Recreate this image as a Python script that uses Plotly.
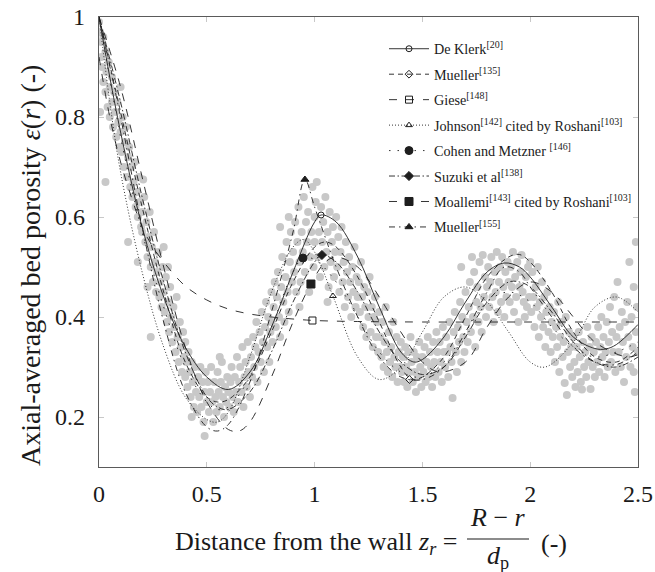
import plotly.graph_objects as go

# ---------------- data ----------------
deklerk_x = [0, 0.05, 0.1, 0.2, 0.3, 0.4, 0.5, 0.6, 0.7, 0.8, 0.9, 1.0, 1.03, 1.1, 1.2, 1.3, 1.4, 1.46, 1.5, 1.6, 1.7, 1.8, 1.88, 1.95, 2.0, 2.1, 2.2, 2.3, 2.35, 2.4, 2.5]
deklerk_y = [1.0, 0.88, 0.77, 0.58, 0.44, 0.34, 0.28, 0.255, 0.29, 0.38, 0.49, 0.59, 0.604, 0.59, 0.52, 0.42, 0.33, 0.31, 0.315, 0.36, 0.43, 0.49, 0.508, 0.50, 0.48, 0.42, 0.36, 0.337, 0.336, 0.345, 0.385]
deklerk_mark = (1.03, 0.604)

mueller135_x = [0, 0.1, 0.2, 0.3, 0.4, 0.5, 0.55, 0.6, 0.7, 0.8, 0.9, 1.0, 1.05, 1.1, 1.2, 1.3, 1.4, 1.45, 1.5, 1.6, 1.7, 1.8, 1.9, 1.95, 2.0, 2.1, 2.2, 2.3, 2.4, 2.5]
mueller135_y = [1.0, 0.81, 0.62, 0.45, 0.31, 0.24, 0.23, 0.235, 0.28, 0.37, 0.47, 0.54, 0.55, 0.54, 0.48, 0.39, 0.30, 0.275, 0.28, 0.32, 0.40, 0.48, 0.52, 0.525, 0.51, 0.45, 0.37, 0.32, 0.31, 0.34]
mueller135_mark = (1.44, 0.275)

giese_x = [0, 0.05, 0.1, 0.15, 0.2, 0.25, 0.3, 0.4, 0.5, 0.6, 0.7, 0.8, 0.9, 1.0, 1.2, 1.5, 2.0, 2.5]
giese_y = [0.92, 0.80, 0.71, 0.64, 0.58, 0.54, 0.51, 0.462, 0.434, 0.416, 0.406, 0.40, 0.396, 0.393, 0.391, 0.39, 0.39, 0.39]
giese_mark = (0.99, 0.393)

johnson_x = [0, 0.05, 0.1, 0.2, 0.3, 0.4, 0.5, 0.55, 0.6, 0.7, 0.8, 0.9, 0.95, 1.0, 1.085, 1.2, 1.3, 1.4, 1.5, 1.6, 1.7, 1.8, 1.9, 2.0, 2.07, 2.2, 2.3, 2.4, 2.5]
johnson_y = [1.0, 0.83, 0.69, 0.49, 0.34, 0.24, 0.195, 0.19, 0.21, 0.32, 0.45, 0.54, 0.555, 0.53, 0.442, 0.32, 0.275, 0.30, 0.37, 0.44, 0.46, 0.43, 0.37, 0.31, 0.30, 0.35, 0.42, 0.44, 0.41]
johnson_mark = (1.085, 0.442)

cohen_x = [0, 0.1, 0.2, 0.3, 0.4, 0.5, 0.55, 0.6, 0.7, 0.8, 0.9, 0.946, 1.0, 1.1, 1.2, 1.3, 1.4, 1.5, 1.6, 1.7, 1.8, 1.9, 2.0, 2.1, 2.2, 2.3, 2.4, 2.5]
cohen_y = [1.0, 0.76, 0.57, 0.42, 0.30, 0.23, 0.215, 0.22, 0.28, 0.38, 0.49, 0.518, 0.515, 0.47, 0.40, 0.33, 0.29, 0.28, 0.31, 0.37, 0.43, 0.45, 0.43, 0.38, 0.34, 0.32, 0.33, 0.35]
cohen_mark = (0.946, 0.518)

suzuki_x = [0, 0.1, 0.2, 0.3, 0.4, 0.5, 0.55, 0.6, 0.7, 0.8, 0.9, 1.0, 1.034, 1.1, 1.2, 1.3, 1.4, 1.5, 1.6, 1.7, 1.8, 1.9, 1.95, 2.0, 2.1, 2.2, 2.3, 2.4, 2.5]
suzuki_y = [1.0, 0.83, 0.64, 0.47, 0.33, 0.24, 0.22, 0.215, 0.25, 0.33, 0.43, 0.51, 0.524, 0.51, 0.45, 0.37, 0.31, 0.285, 0.30, 0.36, 0.43, 0.47, 0.47, 0.46, 0.41, 0.35, 0.31, 0.30, 0.32]
suzuki_mark = (1.034, 0.524)

moallemi_x = [0, 0.1, 0.2, 0.3, 0.4, 0.5, 0.6, 0.65, 0.7, 0.8, 0.9, 0.983, 1.05, 1.1, 1.2, 1.3, 1.4, 1.5, 1.58, 1.7, 1.8, 1.9, 2.0, 2.1, 2.2, 2.3, 2.45, 2.5]
moallemi_y = [1.0, 0.86, 0.68, 0.50, 0.34, 0.23, 0.175, 0.172, 0.19, 0.28, 0.39, 0.466, 0.51, 0.52, 0.50, 0.44, 0.37, 0.31, 0.29, 0.31, 0.38, 0.44, 0.47, 0.45, 0.40, 0.35, 0.32, 0.325]
moallemi_mark = (0.983, 0.466)

mueller155_x = [0, 0.1, 0.2, 0.3, 0.4, 0.5, 0.55, 0.6, 0.7, 0.8, 0.9, 0.955, 1.0, 1.1, 1.2, 1.3, 1.4, 1.5, 1.6, 1.7, 1.8, 1.88, 1.95, 2.0, 2.1, 2.2, 2.3, 2.4, 2.5]
mueller155_y = [1.0, 0.80, 0.58, 0.39, 0.25, 0.18, 0.172, 0.185, 0.27, 0.41, 0.57, 0.675, 0.62, 0.50, 0.40, 0.32, 0.28, 0.275, 0.30, 0.37, 0.45, 0.50, 0.49, 0.46, 0.40, 0.34, 0.31, 0.305, 0.33]
mueller155_mark = (0.955, 0.675)

scatter_points = [
    (0.00, 0.99), (0.005, 0.97), (0.01, 0.95), (0.01, 0.92), (0.015, 0.90), (0.02, 0.96), (0.02, 0.87), (0.03, 0.93),
    (0.03, 0.85), (0.035, 0.89), (0.04, 0.82), (0.045, 0.91), (0.05, 0.86), (0.05, 0.80), (0.06, 0.88), (0.06, 0.83),
    (0.065, 0.78), (0.07, 0.85), (0.075, 0.81), (0.08, 0.76), (0.085, 0.83), (0.09, 0.79), (0.095, 0.74), (0.03, 0.67),
    (0.10, 0.86), (0.005, 0.81),
    (0.10, 0.77), (0.105, 0.73), (0.11, 0.80), (0.115, 0.70), (0.12, 0.75), (0.125, 0.78), (0.13, 0.68), (0.135, 0.72),
    (0.14, 0.74), (0.145, 0.66), (0.15, 0.70), (0.155, 0.64), (0.16, 0.67), (0.165, 0.71), (0.17, 0.62), (0.175, 0.65),
    (0.18, 0.60), (0.185, 0.68), (0.19, 0.63), (0.195, 0.58), (0.20, 0.61), (0.135, 0.55), (0.18, 0.51),
    (0.20, 0.57), (0.205, 0.675), (0.21, 0.64), (0.215, 0.55), (0.22, 0.59), (0.225, 0.52), (0.23, 0.56), (0.235, 0.61),
    (0.24, 0.50), (0.245, 0.54), (0.25, 0.47), (0.255, 0.57), (0.26, 0.51), (0.265, 0.45), (0.27, 0.49), (0.275, 0.53),
    (0.28, 0.44), (0.285, 0.47), (0.29, 0.42), (0.295, 0.50), (0.30, 0.54), (0.24, 0.36), (0.225, 0.46),
    (0.30, 0.45), (0.305, 0.41), (0.31, 0.48), (0.315, 0.39), (0.32, 0.43), (0.325, 0.37), (0.33, 0.46), (0.335, 0.40),
    (0.34, 0.35), (0.345, 0.42), (0.35, 0.38), (0.355, 0.33), (0.36, 0.44), (0.365, 0.36), (0.37, 0.31), (0.375, 0.39),
    (0.38, 0.34), (0.385, 0.29), (0.39, 0.37), (0.395, 0.32), (0.40, 0.28), (0.32, 0.50),
    (0.40, 0.35), (0.405, 0.31), (0.41, 0.26), (0.415, 0.33), (0.42, 0.29), (0.425, 0.24), (0.43, 0.31), (0.435, 0.27),
    (0.44, 0.22), (0.445, 0.30), (0.45, 0.25), (0.455, 0.21), (0.46, 0.28), (0.465, 0.24), (0.47, 0.30), (0.475, 0.22),
    (0.48, 0.27), (0.485, 0.19), (0.49, 0.25), (0.495, 0.29), (0.50, 0.23), (0.49, 0.162), (0.43, 0.20),
    (0.505, 0.27), (0.51, 0.21), (0.515, 0.25), (0.52, 0.30), (0.525, 0.23), (0.53, 0.19), (0.535, 0.27), (0.54, 0.24),
    (0.545, 0.21), (0.55, 0.29), (0.555, 0.25), (0.56, 0.22), (0.565, 0.27), (0.57, 0.31), (0.575, 0.24), (0.58, 0.20),
    (0.585, 0.26), (0.59, 0.23), (0.595, 0.28), (0.60, 0.25), (0.56, 0.32),
    (0.605, 0.22), (0.61, 0.27), (0.615, 0.30), (0.62, 0.24), (0.625, 0.21), (0.63, 0.28), (0.635, 0.25), (0.64, 0.32),
    (0.645, 0.23), (0.65, 0.27), (0.655, 0.30), (0.66, 0.25), (0.665, 0.34), (0.67, 0.22), (0.675, 0.28), (0.68, 0.31),
    (0.685, 0.26), (0.69, 0.35), (0.695, 0.29), (0.70, 0.24),
    (0.705, 0.32), (0.71, 0.28), (0.715, 0.36), (0.72, 0.30), (0.725, 0.34), (0.73, 0.39), (0.735, 0.27), (0.74, 0.33),
    (0.745, 0.37), (0.75, 0.31), (0.755, 0.41), (0.76, 0.35), (0.765, 0.29), (0.77, 0.38), (0.775, 0.43), (0.78, 0.34),
    (0.785, 0.40), (0.79, 0.31), (0.795, 0.37), (0.80, 0.45), (0.80, 0.39),
    (0.805, 0.35), (0.81, 0.42), (0.815, 0.47), (0.82, 0.38), (0.825, 0.44), (0.83, 0.49), (0.835, 0.40), (0.84, 0.36),
    (0.845, 0.46), (0.85, 0.52), (0.855, 0.43), (0.86, 0.39), (0.865, 0.48), (0.87, 0.55), (0.875, 0.45), (0.88, 0.41),
    (0.885, 0.51), (0.89, 0.57), (0.895, 0.47), (0.90, 0.53), (0.88, 0.60), (0.84, 0.58),
    (0.905, 0.49), (0.91, 0.59), (0.915, 0.45), (0.92, 0.55), (0.925, 0.62), (0.93, 0.51), (0.935, 0.47), (0.94, 0.57),
    (0.945, 0.53), (0.95, 0.64), (0.955, 0.49), (0.96, 0.59), (0.965, 0.55), (0.97, 0.61), (0.975, 0.45), (0.98, 0.52),
    (0.985, 0.57), (0.99, 0.66), (0.995, 0.50), (1.00, 0.60), (1.00, 0.55), (0.93, 0.42),
    (1.005, 0.63), (1.01, 0.67), (1.015, 0.52), (1.02, 0.57), (1.025, 0.48), (1.03, 0.62), (1.035, 0.55), (1.04, 0.59),
    (1.045, 0.50), (1.05, 0.64), (1.055, 0.53), (1.06, 0.57), (1.065, 0.46), (1.07, 0.61), (1.075, 0.51), (1.08, 0.55),
    (1.085, 0.58), (1.09, 0.48), (1.095, 0.53), (1.10, 0.60), (1.06, 0.43),
    (1.105, 0.50), (1.11, 0.56), (1.115, 0.45), (1.12, 0.53), (1.125, 0.58), (1.13, 0.47), (1.135, 0.51), (1.14, 0.42),
    (1.145, 0.55), (1.15, 0.49), (1.155, 0.44), (1.16, 0.52), (1.165, 0.47), (1.17, 0.40), (1.175, 0.50), (1.18, 0.45),
    (1.185, 0.54), (1.19, 0.42), (1.195, 0.48), (1.20, 0.44),
    (1.205, 0.47), (1.21, 0.41), (1.215, 0.51), (1.22, 0.44), (1.225, 0.38), (1.23, 0.46), (1.235, 0.42), (1.24, 0.36),
    (1.245, 0.45), (1.25, 0.40), (1.255, 0.48), (1.26, 0.37), (1.265, 0.42), (1.27, 0.34), (1.275, 0.40), (1.28, 0.44),
    (1.285, 0.36), (1.29, 0.39), (1.295, 0.33), (1.30, 0.41),
    (1.305, 0.36), (1.31, 0.32), (1.315, 0.39), (1.32, 0.30), (1.325, 0.35), (1.33, 0.42), (1.335, 0.33), (1.34, 0.29),
    (1.345, 0.37), (1.35, 0.31), (1.355, 0.34), (1.36, 0.28), (1.365, 0.39), (1.37, 0.32), (1.375, 0.30), (1.38, 0.36),
    (1.385, 0.27), (1.39, 0.33), (1.395, 0.30), (1.40, 0.35),
    (1.405, 0.29), (1.41, 0.32), (1.415, 0.27), (1.42, 0.34), (1.425, 0.30), (1.43, 0.26), (1.435, 0.33), (1.44, 0.29),
    (1.445, 0.36), (1.45, 0.31), (1.455, 0.27), (1.46, 0.33), (1.465, 0.29), (1.47, 0.25), (1.475, 0.32), (1.48, 0.28),
    (1.485, 0.35), (1.49, 0.30), (1.495, 0.26), (1.50, 0.32),
    (1.505, 0.29), (1.51, 0.34), (1.515, 0.27), (1.52, 0.31), (1.525, 0.36), (1.53, 0.28), (1.535, 0.33), (1.54, 0.30),
    (1.545, 0.26), (1.55, 0.35), (1.555, 0.31), (1.56, 0.28), (1.565, 0.37), (1.57, 0.33), (1.575, 0.29), (1.58, 0.35),
    (1.585, 0.31), (1.59, 0.27), (1.595, 0.38), (1.60, 0.33),
    (1.605, 0.30), (1.61, 0.36), (1.615, 0.33), (1.62, 0.28), (1.625, 0.39), (1.63, 0.34), (1.635, 0.31), (1.64, 0.238),
    (1.645, 0.37), (1.65, 0.41), (1.655, 0.33), (1.66, 0.29), (1.665, 0.38), (1.67, 0.35), (1.675, 0.43), (1.68, 0.31),
    (1.685, 0.40), (1.69, 0.36), (1.695, 0.33), (1.70, 0.45), (1.68, 0.50),
    (1.705, 0.39), (1.71, 0.35), (1.715, 0.42), (1.72, 0.47), (1.725, 0.37), (1.73, 0.52), (1.735, 0.40), (1.74, 0.49),
    (1.745, 0.34), (1.75, 0.43), (1.755, 0.46), (1.76, 0.39), (1.765, 0.51), (1.77, 0.42), (1.775, 0.37), (1.78, 0.524),
    (1.785, 0.44), (1.79, 0.48), (1.795, 0.40), (1.80, 0.46),
    (1.805, 0.50), (1.81, 0.42), (1.815, 0.47), (1.82, 0.52), (1.825, 0.44), (1.83, 0.39), (1.835, 0.49), (1.84, 0.45),
    (1.845, 0.53), (1.85, 0.41), (1.855, 0.47), (1.86, 0.50), (1.865, 0.43), (1.87, 0.52), (1.875, 0.46), (1.88, 0.40),
    (1.885, 0.49), (1.89, 0.44), (1.895, 0.51), (1.90, 0.47),
    (1.905, 0.43), (1.91, 0.50), (1.915, 0.46), (1.92, 0.53), (1.925, 0.41), (1.93, 0.48), (1.935, 0.44), (1.94, 0.51),
    (1.945, 0.39), (1.95, 0.46), (1.955, 0.49), (1.96, 0.524), (1.965, 0.45), (1.97, 0.43), (1.975, 0.40), (1.98, 0.48),
    (1.985, 0.42), (1.99, 0.50), (1.995, 0.44), (2.00, 0.51),
    (2.005, 0.41), (2.01, 0.49), (2.015, 0.44), (2.02, 0.38), (2.025, 0.46), (2.03, 0.42), (2.035, 0.50), (2.04, 0.36),
    (2.045, 0.43), (2.05, 0.40), (2.055, 0.47), (2.06, 0.38), (2.065, 0.44), (2.07, 0.34), (2.075, 0.41), (2.08, 0.45),
    (2.085, 0.37), (2.09, 0.42), (2.095, 0.33), (2.10, 0.39),
    (2.105, 0.36), (2.11, 0.41), (2.115, 0.31), (2.12, 0.38), (2.125, 0.34), (2.13, 0.43), (2.135, 0.29), (2.14, 0.36),
    (2.145, 0.39), (2.15, 0.32), (2.155, 0.35), (2.16, 0.268), (2.165, 0.40), (2.17, 0.244), (2.175, 0.33), (2.18, 0.37),
    (2.185, 0.30), (2.19, 0.34), (2.195, 0.28), (2.20, 0.36),
    (2.205, 0.31), (2.21, 0.26), (2.215, 0.34), (2.22, 0.29), (2.225, 0.37), (2.23, 0.32), (2.235, 0.27), (2.24, 0.255),
    (2.245, 0.35), (2.25, 0.30), (2.255, 0.33), (2.26, 0.28), (2.265, 0.38), (2.27, 0.31), (2.275, 0.34), (2.28, 0.256),
    (2.285, 0.36), (2.29, 0.30), (2.295, 0.33), (2.30, 0.28),
    (2.305, 0.35), (2.31, 0.31), (2.315, 0.38), (2.32, 0.29), (2.325, 0.34), (2.33, 0.40), (2.335, 0.32), (2.34, 0.36),
    (2.345, 0.28), (2.35, 0.33), (2.355, 0.39), (2.36, 0.30), (2.365, 0.35), (2.37, 0.42), (2.375, 0.31), (2.38, 0.37),
    (2.385, 0.33), (2.39, 0.44), (2.395, 0.29), (2.40, 0.36),
    (2.405, 0.47), (2.41, 0.33), (2.415, 0.38), (2.42, 0.30), (2.425, 0.41), (2.43, 0.35), (2.435, 0.27), (2.44, 0.39),
    (2.445, 0.32), (2.45, 0.43), (2.455, 0.36), (2.46, 0.51), (2.465, 0.30), (2.47, 0.40), (2.475, 0.34), (2.48, 0.46),
    (2.485, 0.25), (2.49, 0.37), (2.495, 0.42), (2.50, 0.33), (2.49, 0.55), (2.48, 0.29),
]

x_ticks = [0, 0.5, 1, 1.5, 2, 2.5]
x_tick_labels = ["0", "0.5", "1", "1.5", "2", "2.5"]
y_ticks = [0.2, 0.4, 0.6, 0.8, 1.0]
y_tick_labels = ["0.2", "0.4", "0.6", "0.8", "1"]

# ---------------- figure ----------------
FONT = "Liberation Serif, Times New Roman, serif"
LINE_C = "#1e1e1e"
TXT_C = "#1a1a1a"

fig = go.Figure()

fig.add_trace(go.Scatter(
    x=[p[0] for p in scatter_points], y=[p[1] for p in scatter_points],
    mode="markers", showlegend=False, hoverinfo="skip",
    marker=dict(size=8, color="#c8c8c8", line=dict(width=0)),
))

series = [
    ("De Klerk<sup>[20]</sup>", deklerk_x, deklerk_y, deklerk_mark, "solid", "circle-open"),
    ("Mueller<sup>[135]</sup>", mueller135_x, mueller135_y, mueller135_mark, "5px,4px", "diamond-open"),
    ("Giese<sup>[148]</sup>", giese_x, giese_y, giese_mark, "8px,9px", "square-open"),
    ("Johnson<sup>[142]</sup> cited by Roshani<sup>[103]</sup>", johnson_x, johnson_y, johnson_mark, "1px,2px", "triangle-up-open"),
    ("Cohen and Metzner <sup>[146]</sup>", cohen_x, cohen_y, cohen_mark, "1.5px,7px", "circle"),
    ("Suzuki et al<sup>[138]</sup>", suzuki_x, suzuki_y, suzuki_mark, "6px,2.5px,1.5px,2.5px", "diamond"),
    ("Moallemi<sup>[143]</sup> cited by Roshani<sup>[103]</sup>", moallemi_x, moallemi_y, moallemi_mark, "8px,8px", "square"),
    ("Mueller<sup>[155]</sup>", mueller155_x, mueller155_y, mueller155_mark, "6px,4px,1.5px,4px", "triangle-up"),
]

msize = {"circle-open": 6, "diamond-open": 6, "square-open": 7, "triangle-up-open": 6,
         "circle": 8, "diamond": 7, "square": 8, "triangle-up": 7}

for i, (name, xs, ys, mk, dash, sym) in enumerate(series):
    g = "g%d" % i
    fig.add_trace(go.Scatter(
        x=xs, y=ys, mode="lines", showlegend=False, legendgroup=g, hoverinfo="skip",
        line=dict(color=LINE_C, width=0.9, dash=dash, shape="spline", smoothing=1.0),
    ))
    fig.add_trace(go.Scatter(
        x=[mk[0]], y=[mk[1]], mode="lines+markers", name=name, legendgroup=g,
        line=dict(color=LINE_C, width=0.9, dash=dash),
        marker=dict(symbol=sym, size=msize[sym], color=LINE_C,
                    line=dict(color=LINE_C, width=1)),
    ))

# plot area in px: x 99..638, y 17..467
L, R, T, B = 99, 17, 17, 105
W, H = 655, 572
PW, PH = W - L - R, H - T - B

def px(xp):
    return (xp - L) / PW

def py(yp):
    return (H - B - yp) / PH

axis_common = dict(
    showline=True, linecolor="#5a5a5a", linewidth=1.2, mirror="allticks",
    ticks="inside", ticklen=5, tickcolor="#c8c8c8", tickwidth=1,
    showgrid=False, zeroline=False,
    tickfont=dict(family=FONT, size=24, color=TXT_C),
)

fig.update_layout(
    width=W, height=H,
    margin=dict(l=L, r=R, t=T, b=B, autoexpand=False),
    paper_bgcolor="white", plot_bgcolor="white",
    xaxis=dict(range=[0, 2.5], tickvals=x_ticks, ticktext=x_tick_labels,
               ticklabelstandoff=5, automargin=False, **axis_common),
    yaxis=dict(range=[0.1, 1.0], tickvals=y_ticks, ticktext=y_tick_labels,
               ticklabelstandoff=8, automargin=False, **axis_common),
    legend=dict(
        x=px(384), y=py(33), xanchor="left", yanchor="top",
        bgcolor="rgba(255,255,255,0)", borderwidth=0,
        font=dict(family=FONT, size=14.2, color=TXT_C),
        itemwidth=40, tracegroupgap=4, traceorder="grouped",
    ),
    font=dict(family=FONT, color=TXT_C),
    showlegend=True,
)

ann_font = dict(family=FONT, size=26, color=TXT_C)
annotations = [
    dict(text="Axial-averaged bed porosity <i>ε</i>(<i>r</i>) (-)", x=px(30), y=py(266),
         xref="paper", yref="paper", textangle=-90, showarrow=False,
         font=dict(family=FONT, size=28, color=TXT_C), xanchor="center", yanchor="middle"),
    dict(text="Distance from the wall <i>z<sub>r</sub></i> =", x=px(459), y=py(543),
         xref="paper", yref="paper", showarrow=False, font=ann_font,
         xanchor="right", yanchor="middle"),
    dict(text="<i>R</i> − <i>r</i>", x=px(498), y=py(517), xref="paper", yref="paper",
         showarrow=False, font=ann_font, xanchor="center", yanchor="middle"),
    dict(text="<i>d</i><sub>p</sub>", x=px(498), y=py(557), xref="paper", yref="paper",
         showarrow=False, font=ann_font, xanchor="center", yanchor="middle"),
    dict(text="(-)", x=px(539), y=py(543), xref="paper", yref="paper",
         showarrow=False, font=ann_font, xanchor="left", yanchor="middle"),
]
fig.update_layout(annotations=annotations)
fig.add_shape(type="line", xref="paper", yref="paper",
              x0=px(467), x1=px(529), y0=py(539), y1=py(539),
              line=dict(color=TXT_C, width=1.2))

fig.write_html("out.html")
